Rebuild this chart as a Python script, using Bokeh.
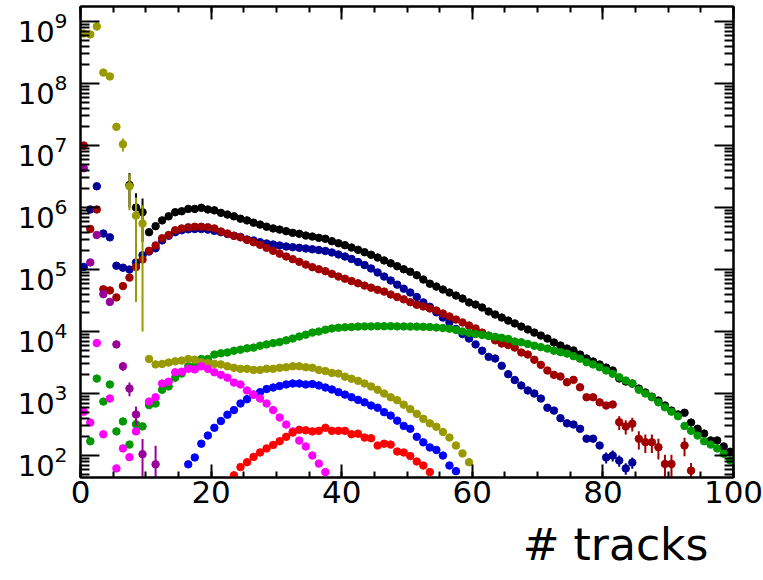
import numpy as np
from bokeh.plotting import figure
from bokeh.models import (Range1d, LinearAxis, LogAxis, FixedTicker, Title,
                          SingleIntervalTicker, LogScale)
from bokeh.embed import file_html
from bokeh.resources import INLINE

# ---------------- data (bin centres = first_bin + 0.5 + i) ----------------
black_first = 7
black = [2.3e6, 1.0e6, 8.4e5, 4.0e5, 5.0e5, 6.2e5, 7.2e5, 8.4e5, 8.7e5, 9.5e5,
         9.5e5, 9.9e5, 9.3e5, 9.0e5, 8.2e5, 7.7e5, 7.2e5, 6.6e5, 6.2e5, 5.7e5,
         5.3e5, 4.9e5, 4.6e5, 4.4e5, 4.15e5, 3.9e5, 3.77e5, 3.53e5, 3.4e5, 3.24e5,
         3.13e5, 2.86e5, 2.65e5, 2.47e5, 2.26e5, 2.08e5, 1.9e5, 1.73e5, 1.56e5, 1.4e5,
         1.26e5, 1.13e5, 1.01e5, 9.2e4, 8.1e4, 6.9e4, 5.9e4, 5.3e4, 4.75e4, 4.25e4,
         3.8e4, 3.4e4, 2.94e4, 2.72e4, 2.44e4, 2.1e4, 1.88e4, 1.68e4, 1.5e4, 1.35e4,
         1.2e4, 1.08e4, 9.6e3, 8.6e3, 7.7e3, 6.65e3, 5.95e3, 5.3e3, 4.95e3, 4.25e3,
         3.67e3, 3.28e3, 2.94e3, 2.62e3, 2.35e3, 1.75e3, 1.56e3, 1.45e3, 1.2e3, 1.04e3,
         8.9e2, 7.7e2, 6.4e2, 5.3e2, 4.6e2, 4.9e2, 3.4e2, 2.7e2, 2.26e2, 1.75e2,
         1.75e2, 1.4e2, 1.15e2]
black_err_bins = [7.5, 8.5, 9.5]
black_err = [1.3e6, 7.0e5, 5.6e5]

navy_first = 0
navy = [1.1e5, 9.3e5, 2.2e6, 3.8e5, 3.3e5, 1.15e5, 1.07e5, 1.0e5, 1.3e5, 1.7e5,
        1.95e5, 2.2e5, 2.95e5, 3.5e5, 4.0e5, 4.3e5, 4.45e5, 4.5e5, 4.5e5, 4.4e5,
        4.2e5, 4.0e5, 3.75e5, 3.5e5, 3.35e5, 3.05e5, 2.94e5, 2.76e5, 2.63e5, 2.53e5,
        2.44e5, 2.35e5, 2.29e5, 2.24e5, 2.18e5, 2.12e5, 2.06e5, 1.99e5, 1.88e5, 1.75e5,
        1.62e5, 1.48e5, 1.32e5, 1.18e5, 1.04e5, 8.95e4, 7.7e4, 6.65e4, 5.7e4, 4.9e4,
        4.26e4, 3.6e4, 2.95e4, 2.5e4, 2.04e4, 1.68e4, 1.4e4, 1.1e4, 9.1e3, 7.7e3,
        6.2e3, 4.9e3, 3.9e3, 3.67e3, 2.8e3, 2.05e3, 1.65e3, 1.35e3, 1.12e3, 1.0e3,
        8.3e2, 5.9e2, 5.3e2, 4.0e2, 3.3e2, 3.16e2, 2.7e2, 1.87e2, 1.87e2, 1.45e2,
        93, 1.0e2, 83, 62, 77]
navy_err_bins = [80.5, 81.5, 82.5, 83.5, 84.5]
navy_err = [19, 20, 17, 13, 16]

darkred_first = 0
darkred = [1.0e7, 4.5e5, 9.3e5, 4.8e4, 4.6e4, 3.55e4, 5.4e4, 7.4e4, 1.1e5, 1.45e5,
           2.0e5, 2.45e5, 3.2e5, 3.6e5, 4.3e5, 4.6e5, 4.8e5, 4.9e5, 4.9e5, 4.8e5,
           4.6e5, 4.1e5, 3.8e5, 3.5e5, 3.3e5, 3.0e5, 2.75e5, 2.5e5, 2.24e5, 2.0e5,
           1.8e5, 1.62e5, 1.47e5, 1.33e5, 1.2e5, 1.09e5, 1.01e5, 9.4e4, 8.5e4, 7.7e4,
           7.1e4, 6.5e4, 6.0e4, 5.5e4, 5.1e4, 4.7e4, 4.4e4, 3.95e4, 3.6e4, 3.3e4,
           2.97e4, 2.7e4, 2.53e4, 2.35e4, 2.18e4, 1.95e4, 1.75e4, 1.56e4, 1.4e4, 1.25e4,
           1.12e4, 9.6e3, 8.6e3, 7.2e3, 6.4e3, 6.05e3, 5.5e3, 4.6e3, 4.25e3, 3.5e3,
           2.9e3, 2.35e3, 2.0e3, 1.88e3, 1.52e3, 1.66e3, 1.26e3, 8.7e2, 8.7e2, 7.2e2,
           6.4e2, 6.65e2, 3.45e2, 2.94e2, 3.25e2, 1.86e2, 1.64e2, 1.64e2, 1.36e2, 73,
           73, None, 1.45e2, 57]
darkred_err_bins = [82.5, 83.5, 84.5, 85.5, 86.5, 87.5, 88.5, 89.5, 90.5, 92.5, 93.5]
darkred_err = [86, 75, 80, 61, 54, 54, 50, 30, 30, 48, 19]

green_first = 1
green = [1.7e2, 1.74e3, 7.4e2, 1.4e3, 2.45e2, 3.55e2, 1.5e2, 3.2e2, 2.95e2, 6.5e2,
         6.9e2, 1.15e3, 1.3e3, 1.8e3, 2.1e3, 2.75e3, 2.8e3, 3.6e3, 3.6e3, 4.25e3,
         4.45e3, 4.6e3, 4.9e3, 5.1e3, 5.35e3, 5.5e3, 5.9e3, 6.2e3, 6.5e3, 6.75e3,
         7.2e3, 7.7e3, 8.3e3, 8.9e3, 9.6e3, 1.0e4, 1.07e4, 1.12e4, 1.15e4, 1.17e4,
         1.18e4, 1.2e4, 1.21e4, 1.21e4, 1.22e4, 1.22e4, 1.22e4, 1.21e4, 1.21e4, 1.2e4,
         1.2e4, 1.19e4, 1.18e4, 1.16e4, 1.14e4, 1.11e4, 1.06e4, 1.0e4, 9.5e3, 9.1e3,
         8.8e3, 8.5e3, 8.2e3, 7.9e3, 7.6e3, 6.9e3, 6.7e3, 6.3e3, 5.9e3, 5.6e3,
         5.3e3, 4.9e3, 4.65e3, 4.4e3, 4.0e3, 3.65e3, 3.2e3, 2.94e3, 2.65e3, 2.35e3,
         2.08e3, 1.83e3, 1.62e3, 1.44e3, 1.15e3, 1.0e3, 8.7e2, 7.2e2, 6.0e2, 5.1e2,
         4.3e2, 3.0e2, 2.5e2, 2.1e2, 1.7e2, 1.5e2, 1.3e2, 1.07e2, 83]

olive_first = 0
olive = [6.4e8, 6.2e8, 8.3e8, 1.5e8, 1.3e8, 2.0e7, 1.05e7, 2.2e6, 7.4e5, 5.5e5,
         3.6e3, 2.95e3, 3.0e3, 3.15e3, 3.3e3, 3.4e3, 3.6e3, 3.5e3, 3.2e3, 3.1e3,
         3.0e3, 2.95e3, 2.75e3, 2.6e3, 2.5e3, 2.5e3, 2.4e3, 2.4e3, 2.5e3, 2.5e3,
         2.6e3, 2.65e3, 2.75e3, 2.75e3, 2.65e3, 2.6e3, 2.4e3, 2.3e3, 2.15e3, 2.1e3,
         1.87e3, 1.73e3, 1.6e3, 1.45e3, 1.3e3, 1.15e3, 1.0e3, 8.7e2, 7.8e2, 6.6e2,
         5.6e2, 4.7e2, 3.9e2, 3.3e2, 2.9e2, 2.4e2, 1.95e2, 1.45e2, 1.08e2, 78]
olive_err_bins = [5.5, 6.5, 7.5, 8.5, 9.5]
olive_err = [2.3e6, 2.5e6, 1.3e6, 7.1e5, 5.4e5]

blue_first = 16
blue = [72, 93, 1.55e2, 2.1e2, 2.8e2, 3.6e2, 4.55e2, 5.4e2, 6.9e2, 8.1e2,
        9.6e2, 1.05e3, 1.18e3, 1.25e3, 1.32e3, 1.4e3, 1.45e3, 1.45e3, 1.4e3, 1.42e3,
        1.35e3, 1.25e3, 1.16e3, 1.05e3, 9.6e2, 8.7e2, 7.9e2, 7.2e2, 6.4e2, 5.9e2,
        5.0e2, 4.4e2, 3.65e2, 3.0e2, 2.7e2, 2.0e2, 1.63e2, 1.35e2, 1.23e2, 1.0e2,
        69, 56]

magenta_first = 0
magenta = [5.1e2, 3.4e2, 6.5e3, 2.2e2, 8.3e2, 62, 1.3e2, 94, 2.45e2, None,
           7.4e2, 8.7e2, 1.45e3, 1.55e3, 2.2e3, 2.25e3, 2.5e3, 2.45e3, 2.75e3, 2.5e3,
           2.2e3, 2.0e3, 1.8e3, 1.5e3, 1.4e3, 1.12e3, 9.6e2, 8.3e2, 6.9e2, 5.4e2,
           4.1e2, 3.16e2, 2.45e2, 1.74e2, 1.4e2, 1.0e2, 74, 54]

red_first = 23
red = [48, 65, 78, 95, 1.12e2, 1.3e2, 1.48e2, 1.7e2, 2.0e2, 2.35e2,
       2.6e2, 2.55e2, 2.45e2, 2.5e2, 2.8e2, 2.5e2, 2.5e2, 2.5e2, 2.2e2, 2.25e2,
       1.95e2, 1.9e2, 1.45e2, 1.55e2, 1.5e2, 1.16e2, 1.12e2, 98, 80, 69, 54]

purple_first = 0
purple = [4.3e6, 1.3e5, 3.6e5, 4.0e4, 3.0e4, 6.2e3, 2.75e3, 1.2e3, 4.6e2, 1.05e2,
          None, 72]
purple_err_bins = [6.5, 7.5, 8.5, 9.5, 11.5]
purple_err = [4.5e2, 3.0e2, 1.6e2, 80, 72]

x_ticks = [0, 20, 40, 60, 80, 100]
y_ticks = [1e2, 1e3, 1e4, 1e5, 1e6, 1e7, 1e8, 1e9]
x_title = "# tracks"

# ---------------- figure ----------------
Y_START, Y_END = 44.2, 1.746e9
LABEL_SHIFT = 10 ** (5 / 62.0)   # y labels sit a few px below their ticks

p = figure(width=763, height=580, y_axis_type="log",
           x_range=Range1d(0, 100), y_range=Range1d(Y_START, Y_END),
           output_backend="svg", toolbar_location=None,
           min_border_left=80, min_border_right=30, min_border_top=6,
           min_border_bottom=103)
p.background_fill_color = "white"
p.border_fill_color = "white"
p.outline_line_color = "black"
p.outline_line_width = 2
p.xgrid.visible = False
p.ygrid.visible = False

p.extra_y_ranges = {"ylab": Range1d(Y_START * LABEL_SHIFT, Y_END * LABEL_SHIFT)}
p.extra_y_scales = {"ylab": LogScale()}

minor_y = [m * 10.0 ** d for d in range(1, 10) for m in range(2, 10)]
xticker = SingleIntervalTicker(interval=20, num_minor_ticks=4)
yticker = FixedTicker(ticks=y_ticks, minor_ticks=minor_y)

p.xaxis.ticker = xticker
p.yaxis.ticker = yticker
top = LinearAxis(ticker=xticker)
right = LogAxis(ticker=yticker)
p.add_layout(top, "above")
p.add_layout(right, "right")

FONT = "DejaVu Sans"
for ax in p.axis:
    ax.axis_line_width = 2
    ax.major_tick_line_width = 2
    ax.minor_tick_line_width = 2
    ax.major_tick_out = 0
    ax.minor_tick_out = 0
    ax.major_label_text_font = FONT
    ax.major_label_text_color = "black"
for ax in p.xaxis:
    ax.major_tick_in = 13
    ax.minor_tick_in = 6
for ax in p.yaxis:
    ax.major_tick_in = 19
    ax.minor_tick_in = 9

bottom = p.below[0]
bottom.major_label_text_font_size = "31px"
bottom.major_label_standoff = 3

left = p.left[0]
for ax in [top, right, left]:
    ax.major_label_text_font_size = "1px"
    ax.major_label_text_color = None
    ax.major_label_standoff = 0

# y labels: separate axis on a slightly shifted range (labels only)
ylab = LogAxis(y_range_name="ylab", ticker=FixedTicker(ticks=y_ticks, minor_ticks=[]),
               axis_line_color=None, major_tick_line_color=None,
               minor_tick_line_color=None, major_tick_in=0, major_tick_out=0,
               minor_tick_in=0, minor_tick_out=0,
               major_label_text_font=FONT, major_label_text_font_size="29px",
               major_label_text_color="black", major_label_standoff=13)
p.add_layout(ylab, "left")

p.add_layout(Title(text=x_title, align="right", offset=25,
                   text_font=FONT, text_font_size="44px",
                   text_font_style="normal", text_color="black",
                   standoff=22), "below")


def centres(first, vals):
    return [first + 0.5 + i for i in range(len(vals))]


def to_arr(vals):
    return np.array([np.nan if v is None else v for v in vals], dtype=float)


def draw(first, vals, color, err_bins=None, errs=None):
    xs = centres(first, vals)
    ys = to_arr(vals)
    if err_bins:
        lookup = dict(zip(xs, ys))
        ex = list(err_bins)
        ey = np.array([lookup[b] for b in ex])
        ee = np.array(errs, dtype=float)
        lo = np.maximum(ey - ee, 1.0)
        hi = ey + ee
        p.segment(x0=ex, y0=lo, x1=ex, y1=hi, line_color=color, line_width=2)
    p.scatter(x=xs, y=ys, size=7.5, marker="circle",
              fill_color=color, line_color=color)


draw(black_first, black, "#000000", black_err_bins, black_err)
draw(navy_first, navy, "#000099", navy_err_bins, navy_err)
draw(darkred_first, darkred, "#a00000", darkred_err_bins, darkred_err)
draw(green_first, green, "#009900")
draw(olive_first, olive, "#999900", olive_err_bins, olive_err)
draw(blue_first, blue, "#0000ff")
draw(magenta_first, magenta, "#ff00ff")
draw(red_first, red, "#ff0000")
draw(purple_first, purple, "#990099", purple_err_bins, purple_err)

open("out.html", "w").write(file_html(p, INLINE))
